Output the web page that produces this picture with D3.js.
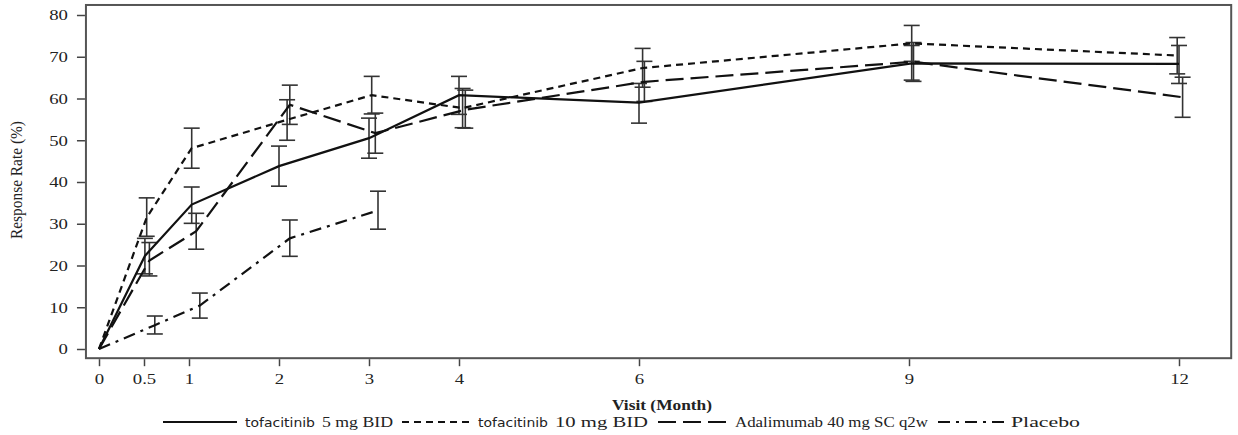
<!DOCTYPE html>
<html>
<head>
<meta charset="utf-8">
<script src="https://cdn.jsdelivr.net/npm/d3@7"></script>
<style>
    body { margin: 0; background: #fff; }
    text { font-family: "Liberation Serif", "Times New Roman", serif; fill: #222; }
</style>
</head>
<body>
<div id="chart"></div>
<script>
// tick labels
const monthTicks = [ 0, 0.5, 1, 2, 3, 4, 6, 9, 12 ];
const rateTicks = [ 0, 10, 20, 30, 40, 50, 60, 70, 80 ];

// series (x = plotted visit month, slightly offset per group as in the figure)
const seriesNames = [ 'tofacitinib 5 mg BID', 'tofacitinib 10 mg BID', 'Adalimumab 40 mg SC q2w', 'Placebo' ];

const tof5X = [ 0, 0.51, 1.03, 2.0, 3.0, 4.0, 6.0, 9.03, 12.0 ];
const tof5Y = [ 0, 22.3, 34.6, 43.8, 50.5, 60.8, 59.0, 68.4, 68.3 ];
const tof5Lo = [ null, 18.0, 30.1, 39.0, 45.7, 56.2, 54.1, 64.4, 63.6 ];
const tof5Hi = [ null, 26.5, 38.8, 48.6, 55.3, 65.3, 63.6, 72.7, 72.7 ];

const tof10X = [ 0, 0.53, 1.03, 2.09, 3.03, 4.04, 6.04, 9.03, 11.98 ];
const tof10Y = [ 0, 31.5, 48.1, 54.9, 60.8, 57.7, 67.3, 73.2, 70.3 ];
const tof10Lo = [ null, 27.0, 43.3, 50.0, 56.3, 53.0, 62.7, 68.9, 65.9 ];
const tof10Hi = [ null, 36.2, 52.9, 59.7, 65.3, 62.4, 72.0, 77.5, 74.6 ];

const adaX = [ 0, 0.56, 1.08, 2.12, 3.07, 4.07, 6.06, 9.05, 12.04 ];
const adaY = [ 0, 21.2, 28.2, 58.5, 51.7, 57.3, 64.0, 68.8, 60.3 ];
const adaLo = [ null, 17.5, 23.9, 53.8, 46.9, 52.9, 59.3, 64.1, 55.5 ];
const adaHi = [ null, 25.5, 32.5, 63.2, 56.5, 62.0, 68.9, 73.4, 65.1 ];

const pboX = [ 0, 0.62, 1.12, 2.12, 3.1 ];
const pboY = [ 0, 5.7, 10.4, 26.5, 33.2 ];
const pboLo = [ null, 3.6, 7.4, 22.2, 28.7 ];
const pboHi = [ null, 7.9, 13.4, 30.9, 37.8 ];

const dashes = [ null, '7,5', '18,7', '12,6,3,6' ];

const series = [
    [ tof5X, tof5Y, tof5Lo, tof5Hi ],
    [ tof10X, tof10Y, tof10Lo, tof10Hi ],
    [ adaX, adaY, adaLo, adaHi ],
    [ pboX, pboY, pboLo, pboHi ]
].map((s, k) => ({
    name: seriesNames[k],
    dash: dashes[k],
    points: s[0].map((m, i) => ({ m, v: s[1][i], lo: s[2][i], hi: s[3][i] }))
}));

const width = 1238;
const height = 435;
const stretch = 1.25; // the source figure is stretched sideways

const x = d3.scaleLinear().domain([ 0, 12 ]).range([ 99, 1179 ]);
const y = d3.scaleLinear().domain([ 0, 80 ]).range([ 349, 15 ]);

const svg = d3.select('#chart')
    .append('svg')
    .attr('width', width)
    .attr('height', height);

// frame
const frameLeft = x(-0.145), frameRight = x(12.58), frameTop = y(82.4), frameBottom = y(-2.2);
svg.append('rect')
    .attr('x', frameLeft)
    .attr('y', frameTop)
    .attr('width', frameRight - frameLeft)
    .attr('height', frameBottom - frameTop)
    .attr('fill', 'none')
    .attr('stroke', '#555')
    .attr('stroke-width', 2);

// axes
const yAxis = svg.append('g')
    .attr('transform', `translate(${frameLeft - 1},0)`)
    .call(d3.axisLeft(y).tickValues(rateTicks).tickSize(8));
yAxis.select('.domain').remove();
yAxis.selectAll('line').attr('stroke', '#444').attr('stroke-width', 1.5);
yAxis.selectAll('text')
    .style('font-size', '15px')
    .style('font-family', '"Liberation Serif", serif')
    .attr('fill', '#333')
    .attr('x', -17 / stretch)
    .attr('transform', `scale(${stretch},1)`);

const xAxis = svg.append('g')
    .attr('transform', `translate(0,${frameBottom + 1})`)
    .call(d3.axisBottom(x).tickValues(monthTicks).tickSize(7).tickPadding(7)
        .tickFormat(d => `${d}`));
xAxis.select('.domain').remove();
xAxis.selectAll('line').attr('stroke', '#444').attr('stroke-width', 1.5);
xAxis.selectAll('text')
    .style('font-size', '15px')
    .style('font-family', '"Liberation Serif", serif')
    .attr('fill', '#333')
    .attr('transform', `scale(${stretch},1)`);

// axis titles
svg.append('text')
    .attr('transform', `translate(22,180) rotate(-90) scale(1,${stretch})`)
    .attr('text-anchor', 'middle')
    .attr('textLength', 118)
    .attr('lengthAdjust', 'spacingAndGlyphs')
    .style('font-size', '14px')
    .text('Response Rate (%)');

svg.append('text')
    .attr('x', 662)
    .attr('y', 410)
    .attr('text-anchor', 'middle')
    .attr('textLength', 100)
    .attr('lengthAdjust', 'spacingAndGlyphs')
    .style('font-size', '14px')
    .style('font-weight', 'bold')
    .text('Visit (Month)');

// error bars
const cap = 8;
const bars = svg.append('g')
    .attr('stroke', '#333')
    .attr('stroke-width', 1.6)
    .attr('fill', 'none');

series.forEach(s => {
    const pts = s.points.filter(p => p.lo !== null);
    const g = bars.append('g');

    g.selectAll('.stem')
        .data(pts)
        .enter()
        .append('line')
        .attr('x1', d => x(d.m))
        .attr('x2', d => x(d.m))
        .attr('y1', d => y(d.lo))
        .attr('y2', d => y(d.hi));
    g.selectAll('.hi')
        .data(pts)
        .enter()
        .append('line')
        .attr('x1', d => x(d.m) - cap)
        .attr('x2', d => x(d.m) + cap)
        .attr('y1', d => y(d.hi))
        .attr('y2', d => y(d.hi));
    g.selectAll('.lo')
        .data(pts)
        .enter()
        .append('line')
        .attr('x1', d => x(d.m) - cap)
        .attr('x2', d => x(d.m) + cap)
        .attr('y1', d => y(d.lo))
        .attr('y2', d => y(d.lo));
});

// lines
const line = d3.line()
    .x(d => x(d.m))
    .y(d => y(d.v));

svg.append('g')
    .selectAll('path')
    .data(series)
    .enter()
    .append('path')
    .attr('d', d => line(d.points))
    .attr('fill', 'none')
    .attr('stroke', '#111')
    .attr('stroke-width', 2.2)
    .attr('stroke-dasharray', d => d.dash);

// legend
const legendY = 422;
const legendLines = [ [ 163, 237 ], [ 402, 470 ], [ 658, 726 ], [ 938, 1005 ] ];
const legendText = [ [ 245, 393 ], [ 478, 648 ], [ 735, 928 ], [ 1011, 1080 ] ];
const legend = svg.append('g');

series.forEach((s, k) => {
    legend.append('line')
        .attr('x1', legendLines[k][0])
        .attr('x2', legendLines[k][1])
        .attr('y1', legendY)
        .attr('y2', legendY)
        .attr('stroke', '#111')
        .attr('stroke-width', 2.2)
        .attr('stroke-dasharray', s.dash);

    const [ x0, x1 ] = legendText[k];
    if (s.name.startsWith('tofacitinib')) {
        const rest = s.name.slice('tofacitinib'.length);
        legend.append('text')
            .attr('x', x0)
            .attr('y', legendY + 5)
            .attr('textLength', 70)
            .attr('lengthAdjust', 'spacingAndGlyphs')
            .style('font-family', '"DejaVu Sans", sans-serif')
            .style('font-size', '12.5px')
            .text('tofacitinib');
        legend.append('text')
            .attr('x', x0 + 77)
            .attr('y', legendY + 5)
            .attr('textLength', x1 - x0 - 77)
            .attr('lengthAdjust', 'spacingAndGlyphs')
            .style('font-size', '14px')
            .text(rest.trim());
    } else {
        legend.append('text')
            .attr('x', x0)
            .attr('y', legendY + 5)
            .attr('textLength', x1 - x0)
            .attr('lengthAdjust', 'spacingAndGlyphs')
            .style('font-size', '14px')
            .text(s.name);
    }
});
</script>
</body>
</html>
